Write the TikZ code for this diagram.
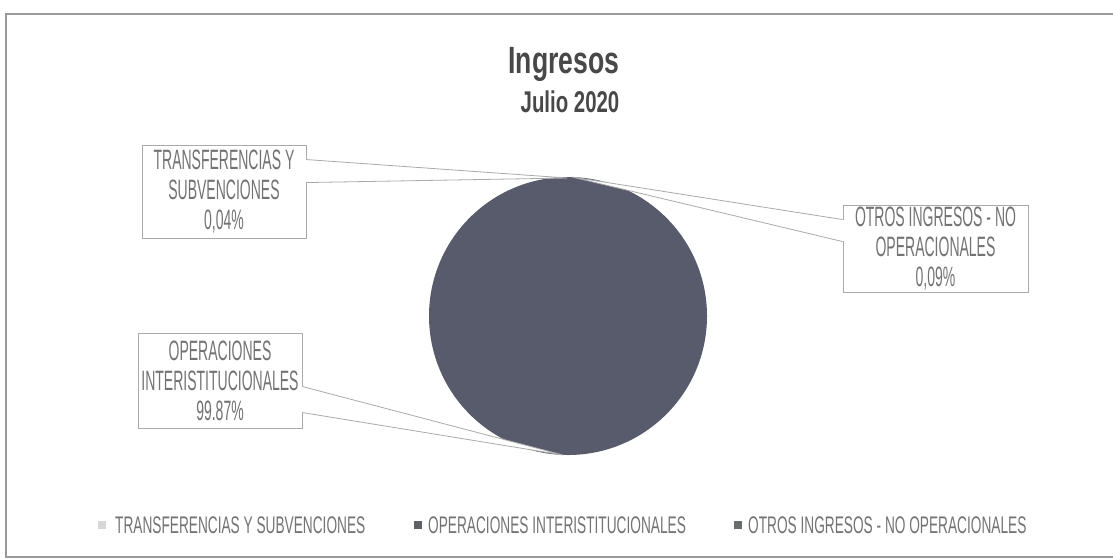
\documentclass[tikz,border=0pt]{standalone}
\usepackage{fontspec}
\setmainfont{Liberation Sans}
\newfontfamily\calloutfont[FakeStretch=0.5]{Liberation Sans}
\newfontfamily\legendfont[FakeStretch=0.57]{Liberation Sans}
\newfontfamily\titlefont[FakeStretch=0.7]{Liberation Sans}
\newfontfamily\subtitlefont[FakeStretch=0.68]{Liberation Sans}
\usetikzlibrary{calc}
\definecolor{piecol}{RGB}{88,91,108}
\definecolor{txtgrey}{RGB}{115,115,115}
\definecolor{boxgrey}{RGB}{170,170,170}
\definecolor{titlegrey}{RGB}{72,72,72}
\definecolor{legA}{RGB}{215,215,215}
\definecolor{legB}{RGB}{95,95,102}
\definecolor{legC}{RGB}{104,110,110}
\begin{document}
\begin{tikzpicture}[x=1pt,y=-1pt,
  calloutbox/.style={draw=boxgrey, line width=0.9pt, fill=white, rectangle, inner sep=0pt},
  callouttext/.style={text=txtgrey, align=center, inner sep=0pt,
     font=\calloutfont\fontsize{28}{30}\selectfont},
  wedgeline/.style={draw=boxgrey, line width=0.8pt},
  legsq/.style={rectangle, minimum size=8pt, inner sep=0pt},
  legtext/.style={text=txtgrey, anchor=west, inner sep=0pt,
     font=\legendfont\fontsize{24}{26}\selectfont},
  frameline/.style={draw=gray!80, line width=1.2pt}
]
\useasboundingbox (0,0) rectangle (1113,558);
\fill[white] (0,0) rectangle (1113,558);

% outer frame (open on the right)
\coordinate (f1) at (6,557);
\coordinate (f2) at (6,14);
\coordinate (f3) at (1113,14);
\coordinate (f4) at (1113,557);
\draw[frameline] (f3) -- (f2) -- (f1) -- (f4);

% title
\node[anchor=base, text=titlegrey, inner sep=0pt,
      font=\titlefont\bfseries\fontsize{38}{40}\selectfont] (title) at (564,73) {Ingresos};
\node[anchor=base, text=titlegrey, inner sep=0pt,
      font=\subtitlefont\bfseries\fontsize{30}{32}\selectfont] (subtitle) at (570,112) {Julio 2020};

% pie
\node[circle, fill=piecol, minimum size=278pt, inner sep=0pt] (pie) at (568,316) {};

% tips on the pie
\coordinate (tipT) at (567,178);
\coordinate (tipO) at (572,177);
\coordinate (tipP) at (563,455);

% callout boxes
\node[calloutbox, minimum width=164pt, minimum height=93pt] (tb) at (224,191.5) {};
\node[callouttext] (tt) at (tb.center) {TRANSFERENCIAS Y\\SUBVENCIONES\\0,04\%};

\node[calloutbox, minimum width=185pt, minimum height=87pt] (ob) at (935.5,248.5) {};
\node[callouttext] (ot) at (ob.center) {OTROS INGRESOS - NO\\OPERACIONALES\\0,09\%};

\node[calloutbox, minimum width=164pt, minimum height=95pt] (pb) at (220,380.5) {};
\node[callouttext] (pt) at (pb.center) {OPERACIONES\\INTERISTITUCIONALES\\99.87\%};

% wedge attach points
\coordinate (tA) at ($(tb.north east)+(0,15)$);
\coordinate (tB) at ($(tb.north east)+(0,38)$);
\coordinate (oA) at ($(ob.north west)+(0,15)$);
\coordinate (oB) at ($(ob.north west)+(0,37)$);
\coordinate (pA) at ($(pb.north east)+(0,54)$);
\coordinate (pB) at ($(pb.north east)+(0,80)$);

% wedges
\fill[white] (tA) -- (tipT) -- (tB) -- cycle;
\draw[white, line width=2pt] ($(tA)+(0,0.8)$) -- ($(tB)+(0,-0.8)$);
\draw[wedgeline] (tA) -- (tipT) -- (tB);

\fill[white] (oA) -- (tipO) -- (oB) -- cycle;
\draw[white, line width=2pt] ($(oA)+(0,0.8)$) -- ($(oB)+(0,-0.8)$);
\draw[wedgeline] (oA) -- (tipO) -- (oB);

\fill[white] (pA) -- (tipP) -- (pB) -- cycle;
\draw[white, line width=2pt] ($(pA)+(0,0.8)$) -- ($(pB)+(0,-0.8)$);
\draw[wedgeline] (pA) -- (tipP) -- (pB);

% legend
\node[legsq, fill=legA] (l1) at (101.5,525) {};
\node[legtext] (l1t) at (115,525) {TRANSFERENCIAS Y SUBVENCIONES};
\node[legsq, fill=legB] (l2) at (417.5,525) {};
\node[legtext] (l2t) at (428,525) {OPERACIONES INTERISTITUCIONALES};
\node[legsq, fill=legC] (l3) at (738,525) {};
\node[legtext] (l3t) at (748,525) {OTROS INGRESOS - NO OPERACIONALES};
\end{tikzpicture}
\end{document}
